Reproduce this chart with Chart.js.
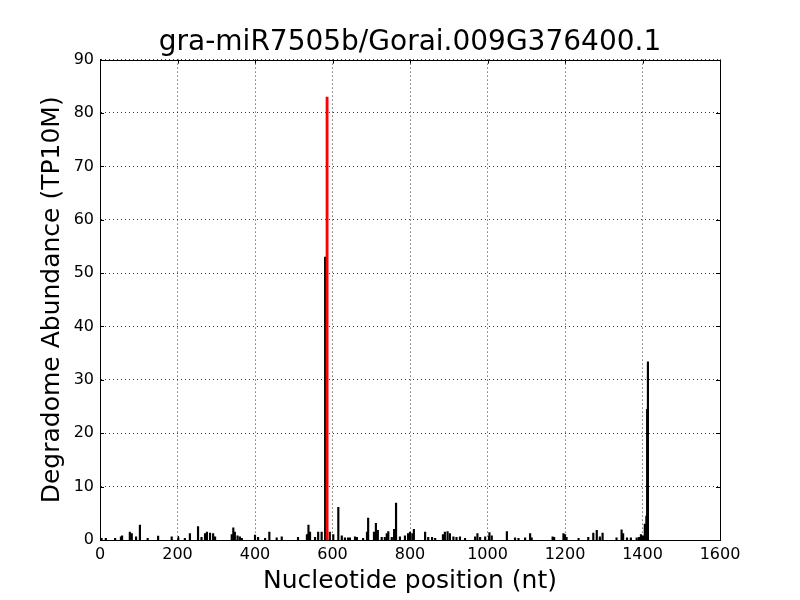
<!DOCTYPE html>
<html>
<head>
<meta charset="utf-8">
<script src="https://cdn.jsdelivr.net/npm/chart.js@4"></script>
<style>
  body { margin: 0; background: #fff; }
  #wrap { width: 800px; height: 600px; }
</style>
</head>
<body>
<div id="wrap"><canvas id="grafico"></canvas></div>
<script>
const titulo = "gra-miR7505b/Gorai.009G376400.1"
const xTicks = [0, 200, 400, 600, 800, 1000, 1200, 1400, 1600]
const yTicks = [0, 10, 20, 30, 40, 50, 60, 70, 80, 90]

// degradome reads per position (nt)
const posicoes = [4, 15, 39, 54, 57, 77, 82, 93, 103, 123, 150, 185, 202, 219, 232, 253,
    262, 271, 276, 284, 292, 297, 340, 344, 348, 355, 361, 366, 400, 408, 426, 437, 456,
    469, 511, 534, 538, 542, 555, 563, 572, 581, 593, 602, 615, 624, 632, 640, 645, 658,
    663, 679, 689, 692, 707, 712, 717, 727, 735, 740, 744, 753, 759, 764, 774, 787, 795,
    800, 806, 810, 839, 847, 857, 865, 885, 890, 897, 903, 912, 920, 929, 942, 968, 974,
    981, 994, 1005, 1011, 1050, 1071, 1080, 1097, 1110, 1114, 1168, 1172, 1196, 1200,
    1204, 1235, 1260, 1273, 1282, 1290, 1297, 1333, 1346, 1350, 1360, 1370, 1385, 1391,
    1396, 1401, 1406, 1410, 1412, 1414]
const abundancia = [0.3, 0.3, 0.3, 0.6, 0.8, 1.5, 1.2, 0.6, 2.8, 0.3, 0.75, 0.6, 0.4, 0.3, 1.2, 2.5,
    0.5, 1.2, 1.5, 1.3, 1.2, 0.6, 1.0, 2.3, 1.5, 0.8, 0.6, 0.3, 0.9, 0.5, 0.3, 1.5, 0.4,
    0.6, 0.5, 1.0, 2.8, 1.5, 0.5, 1.5, 1.5, 53, 1.5, 1.0, 6.1, 0.8, 0.4, 0.4, 0.4, 0.6,
    0.5, 0.3, 1.5, 4.1, 1.5, 3.1, 1.8, 0.5, 0.5, 1.2, 1.6, 0.5, 2.0, 6.9, 0.6, 0.8, 1.2,
    1.5, 1.2, 2.0, 1.5, 0.5, 0.5, 0.3, 1.0, 1.5, 1.6, 1.2, 0.6, 0.5, 0.6, 0.3, 0.6, 1.2,
    0.5, 0.6, 1.4, 0.8, 1.6, 0.4, 0.3, 0.4, 1.2, 0.4, 0.6, 0.5, 1.2, 1.0,
    0.5, 0.3, 0.5, 1.3, 1.8, 0.6, 1.3, 0.4, 1.9, 1.2, 0.4, 0.4, 0.4, 0.5,
    1.0, 0.8, 3.0, 4.5, 24.5, 33.4]

// cleavage site of the miRNA
const alvoPos = [586]
const alvoVal = [83]

const fonte = "'DejaVu Sans', sans-serif"

// frame + inward ticks, matplotlib classic look
const moldura = {
    id: "moldura",
    afterDraw(chart) {
        const { ctx, chartArea: { left, right, top, bottom }, scales: { x, y } } = chart
        ctx.save()
        ctx.strokeStyle = "#000"
        ctx.lineWidth = 1
        ctx.beginPath()
        xTicks.forEach(v => {
            const px = Math.round(x.getPixelForValue(v)) + 0.5
            ctx.moveTo(px, bottom); ctx.lineTo(px, bottom - 4)
            ctx.moveTo(px, top); ctx.lineTo(px, top + 4)
        })
        yTicks.forEach(v => {
            const py = Math.round(y.getPixelForValue(v)) + 0.5
            ctx.moveTo(left, py); ctx.lineTo(left + 4, py)
            ctx.moveTo(right, py); ctx.lineTo(right - 4, py)
        })
        ctx.stroke()
        ctx.strokeRect(Math.round(left) + 0.5, Math.round(top) + 0.5,
            Math.round(right - left), Math.round(bottom - top))
        ctx.restore()
    }
}

const grade = {
    color: "#000",
    lineWidth: 0.8,
    drawTicks: false,
    offset: false
}
const borda = { display: true, color: "#000", dash: [1, 3] }

new Chart(document.getElementById("grafico"), {
    type: "bar",
    data: {
        datasets: [
            {
                data: alvoPos.map((p, i) => ({ x: p, y: alvoVal[i] })),
                backgroundColor: "#ff0000",
                barThickness: 2.2,
                order: 0
            },
            {
                data: posicoes.map((p, i) => ({ x: p, y: abundancia[i] })),
                backgroundColor: "#000000",
                barThickness: 1.5,
                order: 1
            }
        ]
    },
    options: {
        responsive: true,
        maintainAspectRatio: false,
        animation: false,
        layout: { padding: { right: 0, left: 20, top: 0, bottom: 0 } },
        datasets: { bar: { grouped: false } },
        plugins: {
            legend: { display: false },
            tooltip: { enabled: false },
            title: {
                display: true,
                text: titulo,
                color: "#000",
                font: { family: fonte, size: 28, weight: "normal", lineHeight: 1.2 },
                padding: { top: 26, bottom: 0 }
            }
        },
        scales: {
            x: {
                type: "linear",
                min: 0,
                max: 1600,
                offset: false,
                afterFit: s => { s.height = 60 },
                afterBuildTicks: s => { s.ticks = xTicks.map(v => ({ value: v })) },
                ticks: {
                    color: "#000",
                    padding: 5,
                    maxRotation: 0,
                    font: { family: fonte, size: 16 },
                    callback: v => String(v)
                },
                grid: grade,
                border: borda,
                title: {
                    display: true,
                    text: "Nucleotide position (nt)",
                    color: "#000",
                    font: { family: fonte, size: 25, lineHeight: 1.2 },
                    padding: { top: 0, bottom: 4 }
                }
            },
            y: {
                min: 0,
                max: 90,
                afterFit: s => { s.width = 80 },
                afterBuildTicks: s => { s.ticks = yTicks.map(v => ({ value: v })) },
                ticks: {
                    color: "#000",
                    padding: 6,
                    font: { family: fonte, size: 16 },
                    callback: v => String(v)
                },
                grid: grade,
                border: borda,
                title: {
                    display: true,
                    text: "Degradome Abundance (TP10M)",
                    color: "#000",
                    font: { family: fonte, size: 25, lineHeight: 1.2 },
                    padding: { top: 17, bottom: 0 }
                }
            },
            // empty right margin so the title centres over the plot
            yDireita: {
                position: "right",
                min: 0,
                max: 90,
                afterFit: s => { s.width = 80 },
                ticks: { display: false },
                grid: { display: false },
                border: { display: false }
            }
        }
    },
    plugins: [moldura]
})
</script>
</body>
</html>
